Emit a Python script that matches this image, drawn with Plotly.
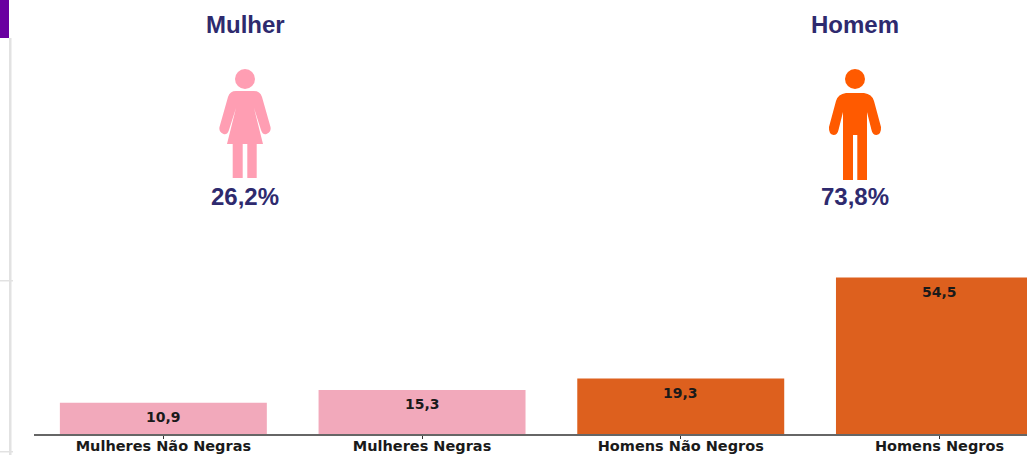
import plotly.graph_objects as go

# Category shares, in percent
categories = ["Mulheres Não Negras", "Mulheres Negras", "Homens Não Negros", "Homens Negros"]
values = [10.9, 15.3, 19.3, 54.5]
bar_colors = ["#F2A9BB", "#F2A9BB", "#DD601E", "#DD601E"]

# Headline figures above the bars
group_names = ["Mulher", "Homem"]
group_shares = ["26,2%", "73,8%"]
group_centers = [245, 855]

WIDTH, HEIGHT = 1027, 455
LEFT, BOTTOM = 34, 21
PLOT_W, PLOT_H = WIDTH - LEFT, HEIGHT - BOTTOM
TEXT_COLOR = "#2E2A6E"
WOMAN_COLOR = "#FF9EB3"
MAN_COLOR = "#FF5A00"
FRAME_COLOR = "#E2E2E2"


def fx(px):
    return (px - LEFT) / PLOT_W


def fy(py):
    return (HEIGHT - BOTTOM - py) / PLOT_H


def path(*items):
    # Alternates SVG commands and (x, y) pixel pairs, converted to paper fractions
    out = []
    for item in items:
        if isinstance(item, str):
            out.append(item)
        else:
            out.append(f"{fx(item[0]):.5f},{fy(item[1]):.5f}")
    return " ".join(out)


def filled(d, color):
    return dict(type="path", xref="paper", yref="paper", path=d,
                fillcolor=color, line=dict(width=0), layer="above")


def rect(x0, y0, x1, y1, color):
    return dict(type="rect", xref="paper", yref="paper", x0=fx(x0), x1=fx(x1),
                y0=fy(y0), y1=fy(y1), fillcolor=color, line=dict(width=0), layer="below")


def head(cx, cy, r, color):
    return dict(type="circle", xref="paper", yref="paper", x0=fx(cx - r), x1=fx(cx + r),
                y0=fy(cy + r), y1=fy(cy - r), fillcolor=color, line=dict(width=0), layer="above")


woman_body = path(
    "M", (236, 91), "L", (254, 91), "Q", (260, 91), (262, 97),
    "L", (270.5, 127), "Q", (271.5, 132), (266.5, 134), "Q", (262.5, 135), (261, 130),
    "L", (254, 108), "L", (263, 144), "L", (256.7, 144), "L", (256.7, 178),
    "L", (247.3, 178), "L", (247.3, 144), "L", (242.7, 144), "L", (242.7, 178),
    "L", (232.7, 178), "L", (232.7, 144), "L", (227, 144), "L", (236, 108),
    "L", (229, 130), "Q", (227.5, 135), (223.5, 134), "Q", (218.5, 132), (219.5, 127),
    "L", (228, 97), "Q", (230, 91), (236, 91), "Z",
)

man_body = path(
    "M", (846, 93), "L", (864, 93), "Q", (872, 94), (874, 101),
    "L", (881, 127), "Q", (881.5, 134), (876.5, 135), "Q", (872.5, 135), (871.5, 130),
    "L", (867, 112), "L", (867, 180), "L", (857.3, 180), "L", (857.3, 135),
    "L", (853, 135), "L", (853, 180), "L", (843, 180), "L", (843, 112),
    "L", (838.5, 130), "Q", (837.5, 135), (833.5, 135), "Q", (828.5, 134), (829, 127),
    "L", (836, 101), "Q", (838, 94), (846, 93), "Z",
)

shapes = [
    rect(0, 0, 9, 38, "#6A00A0"),
    rect(9, 38, 11.5, 455, FRAME_COLOR),
    rect(0, 280, 13, 281.5, FRAME_COLOR),
    rect(0, 451, 13, 452.5, FRAME_COLOR),
    head(245, 79, 10, WOMAN_COLOR),
    filled(woman_body, WOMAN_COLOR),
    head(855, 79, 10, MAN_COLOR),
    filled(man_body, MAN_COLOR),
]

annotations = []
for name, share, center in zip(group_names, group_shares, group_centers):
    for text, py in ((name, 24.5), (share, 196.5)):
        annotations.append(dict(
            xref="paper", yref="paper", x=fx(center), y=fy(py), text=f"<b>{text}</b>",
            showarrow=False, xanchor="center", yanchor="middle",
            font=dict(family="Liberation Sans", size=24, color=TEXT_COLOR),
        ))

# Value labels hang just below the top of each bar
for cat, val in zip(categories, values):
    annotations.append(dict(
        xref="x", yref="y", x=cat, y=val, yshift=-14, text="<b>" + f"{val:.1f}".replace(".", ",") + "</b>",
        showarrow=False, xanchor="center", yanchor="middle",
        font=dict(family="DejaVu Sans", size=14, color="#1A1A1A"),
    ))

fig = go.Figure(go.Bar(
    x=categories, y=values, width=0.8,
    marker=dict(color=bar_colors, line=dict(width=0)),
    hoverinfo="skip",
))

fig.update_layout(
    width=WIDTH, height=HEIGHT,
    margin=dict(l=LEFT, r=0, t=0, b=BOTTOM, autoexpand=False),
    paper_bgcolor="white", plot_bgcolor="white",
    showlegend=False, shapes=shapes, annotations=annotations,
    xaxis=dict(
        type="category", categoryorder="array", categoryarray=categories,
        range=[-0.5, -0.5 + PLOT_W / 258.7], showgrid=False, zeroline=False,
        showline=True, linecolor="#666666", linewidth=2,
        ticks="outside", ticklen=3, tickwidth=1, tickcolor="#333333",
        ticklabelstandoff=-5,
        tickangle=0, tickfont=dict(family="DejaVu Sans", size=14.5, color="#1A1A1A", weight="bold"),
    ),
    yaxis=dict(visible=False, range=[0, PLOT_H / 2.87]),
)

fig.write_html("out.html", config=dict(displayModeBar=False))
